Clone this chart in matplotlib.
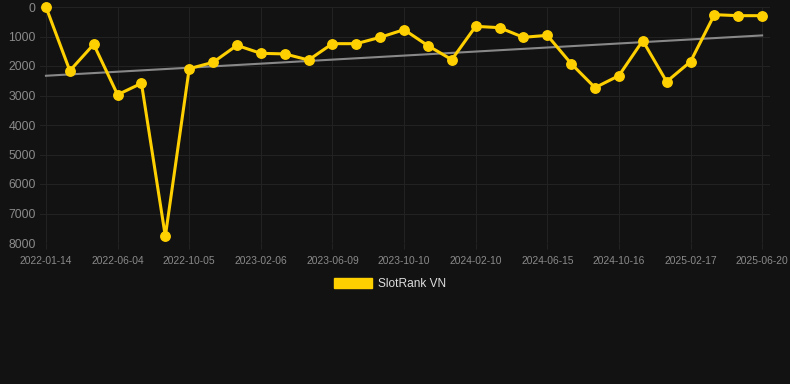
import matplotlib
matplotlib.use("Agg")
import matplotlib.pyplot as plt
import numpy as np

# rank per snapshot (lower is better, axis inverted)
ranks = [0, 2160, 1265, 2973, 2587, 7773, 2090, 1876, 1300, 1571, 1590,
         1797, 1243, 1243, 1028, 768, 1311, 1785, 655, 701, 1028,
         960, 1921, 2734, 2328, 1141, 2531, 1853, 260, 294, 294]
tick_labels = ["2022-01-14", "2022-06-04", "2022-10-05", "2023-02-06",
               "2023-06-09", "2023-10-10", "2024-02-10", "2024-06-15",
               "2024-10-16", "2025-02-17", "2025-06-20"]
y_ticks = [0, 1000, 2000, 3000, 4000, 5000, 6000, 7000, 8000]
series_name = "SlotRank VN"

BG = "#121212"
GOLD = "#FFD000"
plt.rcParams["font.family"] = ["Liberation Sans", "DejaVu Sans"]

fig = plt.figure(figsize=(7.9, 3.84), dpi=100, facecolor=BG)
ax = fig.add_axes([40 / 790, 1 - 243 / 384, 730 / 790, 236 / 384])
ax.set_facecolor(BG)

x = np.arange(len(ranks))
slope, icpt = np.polyfit(x, ranks, 1)
ax.plot(x, slope * x + icpt, color="#888888", lw=1.5, zorder=2)
ax.plot(x, ranks, color=GOLD, lw=2.2, marker="o", ms=6.8,
        label=series_name, zorder=3, clip_on=False)

ax.set_xlim(-0.25, 30.33)
ax.set_ylim(8000, 0)
ax.set_yticks(y_ticks)
ax.set_yticklabels([str(v) for v in y_ticks])
ax.set_xticks(x[::3])
ax.set_xticklabels(tick_labels)

ax.grid(True, color="#222222", lw=0.8)
ax.set_axisbelow(True)
for s in ax.spines.values():
    s.set_visible(False)
ax.tick_params(axis="y", length=0, colors="#8a8a8a", labelsize=8.8, pad=3)
ax.tick_params(axis="x", length=4, color="#222222", colors="#8a8a8a",
               labelsize=7.4, pad=5)

leg = fig.legend(handles=[plt.Rectangle((0, 0), 1, 1, color=GOLD)],
                 labels=[series_name], loc="center",
                 bbox_to_anchor=(390 / 790, 1 - 284 / 384),
                 frameon=False, fontsize=8.6, handlelength=3.2, handleheight=1.0,
                 handletextpad=0.5)
for t in leg.get_texts():
    t.set_color("#dddddd")

fig.savefig("out.png", dpi=100, facecolor=BG)
